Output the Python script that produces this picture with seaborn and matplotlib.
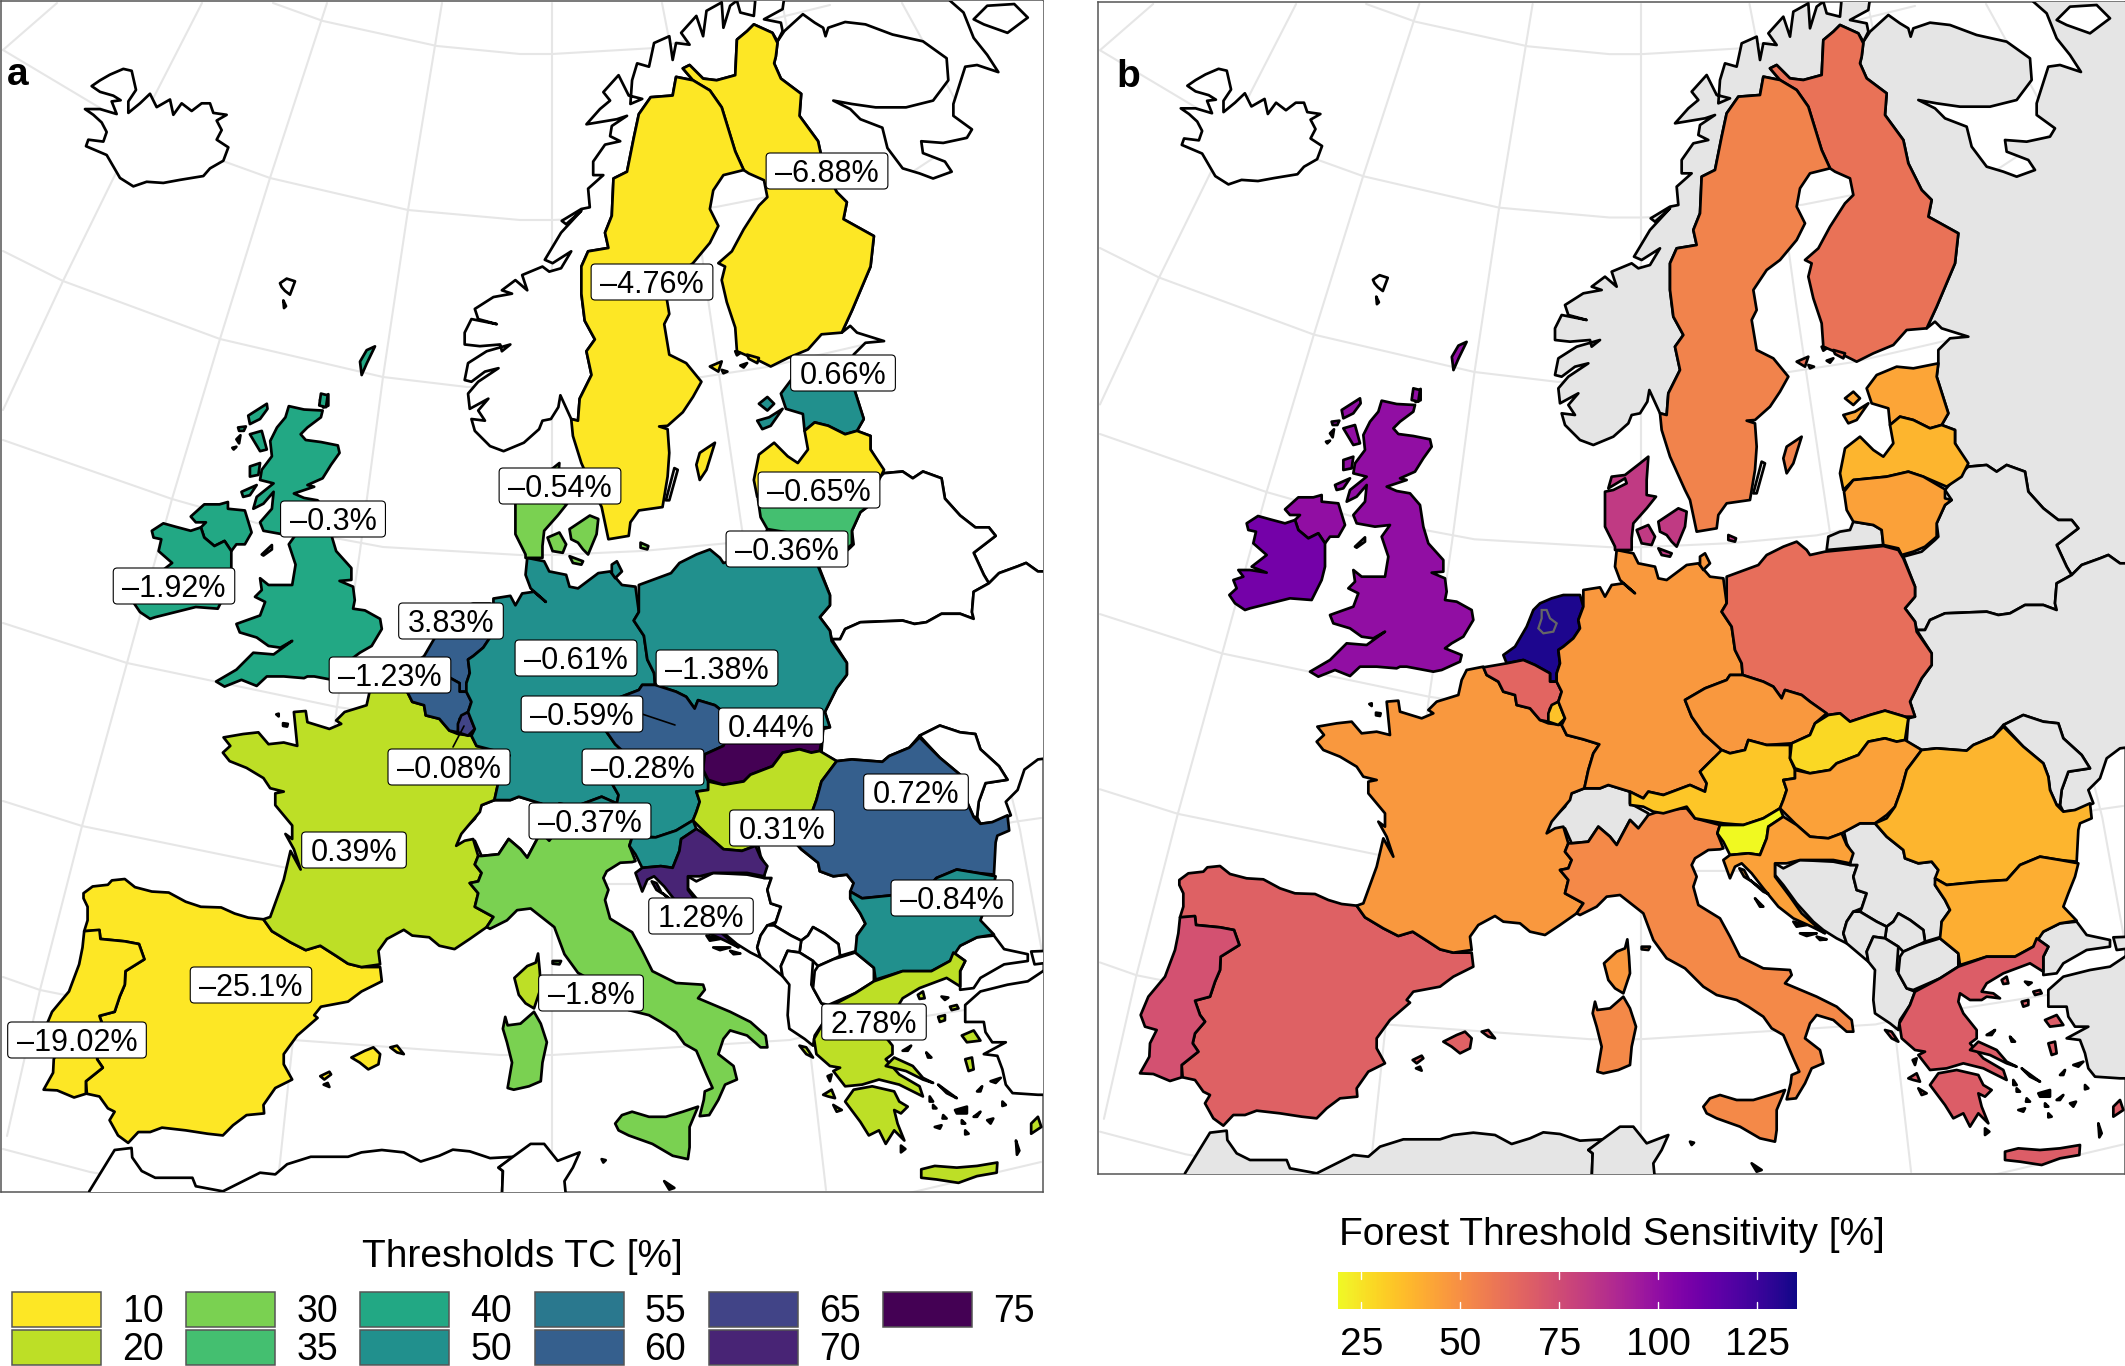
import numpy as np
import matplotlib
matplotlib.use('Agg')
import matplotlib.pyplot as plt
from matplotlib.patches import FancyBboxPatch, Rectangle
import seaborn as sns

SHEETS = {'W': (1120, 680), 'U': (1250, 380), 'N': (1560, 0), 'C': (1620, 430), 'S': (1620, 730)}

SPAIN = [(178,600),(205,580),(250,575),(262,562),(300,558),(330,582),(380,595),(430,598),(480,625),(525,640),(585,642),(625,660),(665,672),(710,677),(735,712),(790,745),(835,768),(878,755),(925,785),(960,808),(1000,818),(1055,818),(1060,860),(1000,890),(960,920),(880,935),(860,960),(870,968),(810,1020),(770,1075),(770,1105),(795,1150),(745,1175),(710,1225),(712,1250),(660,1255),(620,1285),(590,1315),(545,1310),(480,1300),(410,1292),(375,1305),(340,1305),(310,1337),(280,1315),(255,1270),(270,1245),(250,1235),(225,1200),(188,1192),(185,1155),(235,1115),(218,1090),(225,1060),(255,1025),(240,1005),(225,962),(270,950),(285,905),(300,870),(302,830),(358,795),(342,750),(300,742),(228,735),(225,710),(180,712),(190,680),(190,640),(178,615)]
PORTUGAL = [(180,712),(225,708),(228,735),(300,742),(342,750),(358,795),(302,830),(300,870),(285,905),(270,950),(225,962),(240,1005),(255,1025),(225,1060),(218,1090),(235,1115),(185,1155),(185,1192),(150,1203),(100,1182),(60,1180),(88,1130),(90,1090),(110,1050),(75,1040),(62,1005),(85,950),(135,890),(165,810),(175,760)]
FRANCE = [(1040,-30),(1090,-40),(1100,-15),(1135,5),(1150,35),(1185,45),(1190,75),(1230,85),(1260,120),(1285,130),(1325,135),(1340,165),(1390,178),(1438,193),(1420,220),(1405,270),(1393,325),(1355,340),(1350,360),(1320,395),(1295,425),(1280,460),(1305,445),(1330,440),(1345,490),(1335,515),(1355,540),(1345,565),(1320,570),(1345,600),(1335,640),(1390,670),(1370,700),(1320,735),(1275,765),(1230,755),(1200,730),(1150,725),(1125,708),(1075,735),(1050,770),(1055,810),(1000,818),(960,808),(925,785),(878,755),(835,768),(790,745),(735,712),(710,677),(730,670),(770,560),(790,475),(820,530),(800,470),(775,425),(795,440),(795,400),(745,340),(745,305),(770,300),(730,290),(710,260),(660,230),(610,210),(590,185),(612,165),(592,140),(650,130),(695,125),(725,160),(770,155),(810,165),(800,65),(835,62),(840,95),(905,115),(940,100),(925,90),(950,65),(1015,45),(1025,0)]
CORSICA = [(1522,778),(1527,830),(1530,880),(1510,940),(1485,925),(1465,900),(1452,850),(1490,815),(1515,805)]
SARDINIA = [(1425,965),(1432,990),(1470,985),(1510,950),(1530,985),(1548,1040),(1535,1100),(1530,1155),(1495,1170),(1450,1180),(1432,1175),(1445,1100),(1430,1040),(1418,1000)]
MALLORCA = [(970,1085),(1010,1065),(1035,1055),(1055,1075),(1050,1105),(1020,1120),(995,1100)]
MENORCA = [(1085,1055),(1105,1050),(1125,1075),(1105,1070)]
IBIZA = [(878,1140),(905,1127),(910,1135),(890,1150)]
FORMENTERA = [(888,1165),(900,1160),(905,1172)]
CHANNEL_ISLES = [[(748,72),(755,70),(755,78)], [(768,98),(782,100),(780,108),(768,106)]]
AFRICA = [(195,1500),(195,1480),(270,1358),(320,1352),(322,1380),(350,1420),(390,1440),(440,1440),(500,1440),(510,1465),(590,1480),(640,1455),(700,1425),(745,1430),(780,1400),(850,1378),(960,1378),(1000,1365),(1060,1358),(1125,1365),(1175,1392),(1230,1375),(1270,1357),(1320,1362),(1380,1382),(1450,1378),(1405,1410),(1418,1420),(1415,1500)]
TUNISIA = [(1415,1500),(1418,1420),(1405,1410),(1445,1380),(1500,1340),(1540,1340),(1580,1390),(1645,1365),(1625,1410),(1600,1450),(1605,1500)]

BRITAIN = [(395,62),(440,72),(495,75),(490,95),(450,125),(430,145),(445,162),(490,168),(540,178),(545,200),(520,235),(495,275),(450,295),(470,300),(410,320),(440,333),(480,340),(510,375),(520,440),(535,490),(580,540),(580,575),(545,578),(585,595),(590,635),(585,660),(620,665),(665,690),(670,720),(640,770),(605,790),(585,805),(635,825),(630,845),(575,870),(550,875),(470,860),(450,860),(440,865),(380,860),(330,860),(300,888),(255,870),(205,890),(180,875),(240,840),(290,790),(350,795),(405,755),(370,775),(335,770),(300,745),(250,730),(240,705),(310,680),(325,640),(295,625),(315,605),(310,570),(335,590),(405,590),(415,530),(395,470),(420,435),(375,440),(320,430),(310,405),(345,365),(350,315),(320,350),(290,365),(300,330),(350,290),(310,280),(315,250),(345,210),(340,165),(360,125),(385,95)]
HEBRIDES = [[(275,90),(330,55),(332,70),(310,100),(280,115)], [(280,145),(315,135),(330,190),(310,195)], [(280,240),(310,230),(305,265),(280,270)], [(255,315),(300,295),(280,325),(260,330)], [(245,125),(268,122),(262,135),(248,135)], [(240,160),(252,148),(248,172)], [(228,185),(240,182),(232,190)], [(490,25),(510,30),(505,65),(485,60)]]
IRELAND = [(24,408),(60,418),(105,430),(135,420),(145,450),(175,475),(205,460),(225,490),(225,560),(215,600),(185,660),(120,655),(60,670),(0,685),(-15,690),(-45,670),(-62,645),(-40,625),(-50,600),(-20,590),(-35,570),(0,570),(50,578),(5,560),(50,525),(10,490),(18,455),(-5,450),(-10,430)]
N_IRELAND = [(105,388),(145,352),(190,352),(215,345),(215,365),(265,370),(285,435),(265,470),(240,470),(225,490),(205,460),(175,475),(145,450),(135,420),(150,405),(120,405)]
MAN = [(315,500),(345,472),(345,485),(320,503)]
NETHERLANDS = [(905,655),(940,645),(990,645),(1000,680),(985,720),(990,745),(970,775),(940,800),(925,810),(930,850),(920,880),(920,905),(900,905),(900,880),(855,855),(820,840),(770,850),(760,825),(795,800),(830,740),(850,690),(870,670)]
IJSSELMEER = [(875,690),(890,690),(900,715),(920,730),(910,755),(880,760),(865,745),(875,715)]
BELGIUM = [(700,862),(770,850),(820,840),(855,855),(900,880),(900,905),(920,905),(935,935),(925,965),(900,985),(895,1025),(870,1020),(840,985),(800,975),(795,945),(760,935),(745,905),(710,885)]
LUXEMBOURG = [(905,975),(925,965),(945,1015),(925,1035),(895,1025),(895,1000)]
GERMANY = [(1100,510),(1150,520),(1165,550),(1215,560),(1225,595),(1250,600),(1310,555),(1345,550),(1380,590),(1420,595),(1430,670),(1415,695),(1445,740),(1455,810),(1475,850),(1478,885),(1440,885),(1430,900),(1365,925),(1305,960),(1325,1010),(1360,1060),(1410,1105),(1420,1120),(1390,1135),(1350,1175),(1370,1210),(1365,1235),(1320,1215),(1240,1245),(1195,1235),(1180,1255),(1140,1235),(1075,1215),(1050,1225),(1003,1225),(1015,1170),(1030,1120),(1048,1093),(1000,1078),(950,1065),(935,1035),(945,1015),(925,965),(935,935),(920,905),(920,880),(930,850),(925,810),(940,800),(970,775),(990,745),(985,720),(1000,680),(1000,630),(1050,622),(1065,650),(1085,615),(1120,610),(1155,640),(1110,600),(1095,560)]
RUGEN = [(1350,530),(1365,520),(1380,550),(1360,570),(1350,555)]
SWITZERLAND = [(1003,1225),(1050,1225),(1075,1215),(1140,1235),(1140,1270),(1195,1300),(1190,1330),(1165,1345),(1140,1320),(1100,1395),(1080,1370),(1045,1340),(1015,1385),(965,1390),(945,1345),(890,1360),(900,1325),(945,1280),(965,1240)]
JUTLAND = [(1195,230),(1190,300),(1190,345),(1218,350),(1190,385),(1150,430),(1145,475),(1145,510),(1095,510),(1095,500),(1065,440),(1065,335),(1090,330),(1130,310),(1125,295),(1075,325),(1085,290),(1125,285),(1170,250)]
FUNEN = [(1160,450),(1195,435),(1215,470),(1205,495),(1175,490)]
ZEALAND = [(1225,425),(1255,405),(1285,385),(1310,395),(1305,440),(1280,500),(1265,485),(1250,465),(1230,455)]
LOLLAND = [(1225,505),(1265,520),(1260,530),(1235,525)]
BORNHOLM = [(1435,465),(1458,475),(1455,485),(1435,480)]

FINLAND = [(840,75),(895,100),(910,130),(905,170),(900,190),(920,235),(980,280),(975,345),(1030,420),(1045,490),(1085,570),(1115,600),(1105,650),(1195,700),(1185,790),(1130,920),(1100,985),(1040,990),(1000,1035),(940,1060),(890,1085),(860,1070),(790,1040),(785,970),(760,895),(745,830),(755,790),(735,780),(775,745),(810,680),(855,610),(880,585),(870,535),(825,515),(810,505),(785,450),(765,385),(745,320),(710,270),(660,240),(630,205),(650,195),(690,235),(730,240),(785,225),(790,120),(820,95)]
SWEDEN = [(610,230),(660,240),(710,270),(745,320),(765,385),(785,450),(810,505),(750,520),(720,565),(710,620),(735,670),(710,720),(660,780),(620,810),(580,870),(590,930),(575,960),(590,1050),(640,1075),(685,1130),(660,1175),(630,1220),(585,1260),(560,1262),(585,1270),(590,1340),(585,1410),(570,1500),(500,1510),(475,1545),(470,1585),(410,1595),(390,1500),(375,1470),(330,1370),(305,1290),(300,1240),(320,1245),(325,1180),(360,1110),(345,1040),(370,1005),(340,950),(330,870),(330,790),(350,745),(410,735),(400,690),(420,640),(425,530),(465,510),(485,410),(500,340),(535,290),(600,285)]
GOTLAND = [(680,1340),(725,1310),(700,1390),(680,1420),(670,1375)]
OLAND = [(605,1385),(615,1390),(590,1480),(580,1480)]
ALAND = [[(710,1085),(745,1070),(735,1100)], [(745,1095),(762,1100),(750,1105)], [(800,1082),(820,1075),(810,1088)], [(785,1040),(800,1045),(790,1052)], [(820,1050),(855,1060),(850,1075),(825,1062)]]
NORWAY = [(300,1240),(268,1170),(262,1205),(240,1240),(215,1245),(205,1270),(160,1310),(100,1335),(60,1320),(15,1275),(5,1240),(45,1245),(25,1215),(55,1180),(0,1210),(-5,1165),(25,1130),(85,1090),(45,1100),(5,1130),(-15,1125),(-5,1075),(50,1040),(120,1020),(95,1040),(90,1020),(30,1025),(-15,1020),(-15,985),(5,945),(80,960),(25,945),(15,915),(70,880),(125,870),(95,860),(135,830),(170,860),(155,815),(215,790),(235,805),(270,795),(300,745),(245,780),(222,770),(270,690),(330,625),(285,665),(272,655),(330,620),(355,615),(350,560),(395,520),(365,520),(365,480),(400,430),(445,420),(415,405),(420,375),(465,345),(435,355),(345,370),(385,325),(415,300),(395,275),(440,225),(470,285),(510,295),(475,310),(480,240),(495,190),(530,200),(545,130),(590,110),(600,180),(610,130),(650,135),(625,100),(670,50),(690,110),(700,35),(745,10),(750,85),(770,20),(790,5),(800,40),(840,50),(845,-5),(930,-5),(925,30),(870,60),(920,70),(925,95),(910,125),(895,100),(840,75),(820,95),(790,120),(785,225),(730,240),(690,235),(650,195),(630,205),(660,240),(610,230),(600,285),(535,290),(500,340),(485,410),(465,510),(425,530),(420,640),(400,690),(410,735),(350,745),(330,790),(330,870),(340,950),(370,1005),(345,1040),(360,1110),(325,1180),(320,1245)]
RUSSIA = [(910,125),(930,95),(985,45),(1020,70),(1045,85),(1052,110),(1060,85),(1110,68),(1170,75),(1250,105),(1340,125),(1410,175),(1415,240),(1370,300),(1290,320),(1200,320),(1130,310),(1075,300),(1125,325),(1155,355),(1220,380),(1235,440),(1280,500),(1330,515),(1370,530),(1425,510),(1405,480),(1340,455),(1335,420),(1400,425),(1470,410),(1485,385),(1430,345),(1430,310),(1465,200),(1500,195),(1563,216),(1530,165),(1490,115),(1460,40),(1420,5),(1420,-20),(1720,-20),(1720,1690),(1680,1690),(1645,1665),(1620,1675),(1565,1695),(1535,1725),(1520,1700),(1490,1635),(1555,1585),(1535,1560),(1495,1560),(1450,1525),(1405,1475),(1395,1415),(1340,1395),(1310,1415),(1280,1395),(1225,1400),(1185,1330),(1185,1290),(1145,1275),(1165,1240),(1130,1130),(1135,1090),(1135,1050),(1170,1015),(1225,1010),(1145,985),(1125,965),(1100,985),(1130,920),(1185,790),(1195,700),(1105,650),(1115,600),(1085,570),(1045,490),(1030,420),(975,345),(980,280),(920,235),(900,190),(905,170)]
KOLA_LAKE = [(1490,60),(1530,20),(1610,15),(1650,55),(1590,100),(1520,75)]
ESTONIA = [(920,1165),(950,1125),(1010,1100),(1060,1105),(1135,1090),(1130,1130),(1165,1240),(1145,1275),(1110,1285),(1060,1260),(1020,1250),(990,1275),(985,1225),(935,1210)]
SAAREMAA = [(850,1245),(885,1235),(925,1210),(890,1260),(865,1270)]
HIIUMAA = [(855,1195),(880,1175),(900,1195),(880,1215)]

LATVIA = [(660,130),(675,55),(720,20),(760,60),(790,80),(820,40),(810,-15),(840,-40),(880,-30),(930,-5),(965,-15),(1005,0),(1005,40),(1045,100),(1025,140),(980,170),(910,140),(865,125),(800,140),(700,150),(670,180)]
LITHUANIA = [(672,185),(700,150),(800,140),(865,125),(910,140),(975,178),(975,205),(995,210),(975,225),(950,280),(950,320),(915,350),(880,365),(845,375),(835,355),(790,345),(785,300),(760,285),(700,275),(680,240)]
KALININGRAD = [(620,360),(625,320),(660,305),(690,300),(700,275),(760,285),(785,300),(790,345)]
BELARUS = [(850,380),(905,365),(945,330),(955,320),(950,280),(975,225),(995,210),(975,180),(1000,150),(1045,110),(1100,105),(1130,125),(1160,105),(1215,125),(1225,185),(1270,235),(1315,270),(1355,270),(1375,295),(1310,345),(1340,410),(1355,435),(1310,460),(1305,520),(1310,540),(1270,525),(1215,525),(1170,550),(1135,555),(1100,545),(975,550),(930,570),(915,600),(890,600),(885,575),(855,535),(885,500),(885,470)]
UKRAINE = [(890,600),(915,600),(930,570),(975,550),(1100,545),(1135,555),(1170,550),(1215,525),(1270,525),(1310,540),(1305,520),(1310,460),(1355,435),(1385,405),(1440,385),(1465,375),(1500,400),(1540,400),(1540,950),(1500,955),(1460,985),(1440,1045),(1405,1080),(1420,1120),(1370,1140),(1330,1145),(1320,1125),(1325,1080),(1345,1025),(1410,1015),(1385,975),(1330,925),(1315,880),(1270,875),(1210,855),(1150,885),(1120,920),(1060,945),(1040,962),(950,955),(905,960),(860,935),(865,865),(885,860),(870,815),(905,745),(935,705),(935,670)]
MOLDOVA = [(1150,885),(1210,855),(1270,875),(1315,880),(1330,925),(1385,975),(1410,1015),(1345,1025),(1325,1080),(1320,1125),(1310,1125),(1290,1080),(1285,1040),(1270,1000),(1210,950)]
POLAND = [(320,440),(415,405),(440,375),(490,350),(530,335),(560,360),(570,375),(615,365),(790,348),(835,360),(850,385),(885,470),(885,500),(855,535),(885,575),(890,605),(935,670),(935,705),(905,745),(870,815),(885,860),(855,860),(795,842),(750,855),(690,875),(660,850),(625,855),(570,815),(545,795),(495,780),(485,805),(460,770),(430,755),(368,735),(365,700),(345,660),(335,590),(305,545),(320,520)]
CZECHIA = [(195,810),(255,775),(320,750),(330,735),(368,735),(430,755),(460,770),(485,805),(495,780),(545,795),(570,815),(620,850),(585,880),(570,915),(515,940),(440,945),(385,930),(375,960),(330,970),(305,960),(250,910),(215,860)]
AUSTRIA = [(30,1085),(70,1105),(85,1085),(130,1095),(210,1065),(255,1085),(260,1060),(240,1025),(280,985),(305,960),(330,970),(375,960),(385,930),(440,945),(510,945),(510,985),(525,1020),(525,1045),(490,1050),(500,1080),(490,1110),(480,1135),(430,1165),(370,1185),(310,1180),(225,1165),(200,1130),(130,1150),(100,1145),(70,1130),(30,1125)]
SLOVAKIA = [(625,855),(660,850),(690,875),(750,855),(795,842),(855,860),(865,865),(855,930),(830,935),(795,925),(745,935),(715,975),(650,1000),(630,1020),(570,1030),(525,1015),(510,985),(515,940),(570,915),(585,880)]
HUNGARY = [(525,1020),(570,1030),(630,1020),(650,1000),(715,975),(745,935),(795,925),(830,935),(855,930),(905,960),(860,1020),(845,1075),(825,1130),(800,1155),(765,1180),(720,1180),(665,1210),(625,1225),(570,1220),(530,1185),(490,1145),(480,1135),(490,1110),(500,1080),(490,1050),(525,1045)]
SLOVENIA = [(300,1185),(370,1185),(430,1165),(480,1135),(490,1160),(445,1190),(440,1225),(420,1275),(385,1270),(330,1275),(310,1235),(292,1210)]
CROATIA = [(490,1160),(530,1185),(570,1220),(625,1225),(665,1210),(680,1245),(700,1270),(690,1300),(640,1290),(540,1290),(500,1300),(465,1300),(465,1340),(510,1400),(545,1450),(590,1490),(615,1510),(575,1490),(520,1465),(475,1430),(430,1375),(395,1330),(365,1300),(345,1310),(330,1345),(310,1290),(330,1275),(385,1270),(420,1275),(440,1225),(445,1190)]
CROATIA_ISLES = [[(358,1315),(372,1320),(388,1350),(372,1340)], [(390,1350),(445,1392),(430,1385)], [(405,1405),(430,1430),(420,1430)]]

BOSNIA = [(465,400),(490,415),(540,390),(640,395),(690,405),(712,405),(700,440),(710,480),(740,490),(725,535),(700,545),(680,575),(670,610),(680,640),(650,625),(610,600),(580,575),(530,520),(490,465),(465,435)]
SERBIA = [(672,305),(720,280),(765,280),(800,320),(850,360),(855,385),(895,400),(935,395),(955,420),(945,465),(975,510),(990,540),(965,575),(965,620),(915,635),(910,600),(870,570),(835,550),(820,575),(800,590),(770,575),(720,545),(725,535),(740,490),(710,480),(700,440),(712,405),(690,405),(695,370),(680,340)]
KOSOVO = [(800,590),(820,575),(835,550),(870,570),(910,600),(915,635),(895,645),(850,665),(835,650),(795,625)]
MONTENEGRO = [(680,640),(670,610),(680,575),(700,545),(720,545),(770,575),(800,590),(795,625),(760,620),(740,665),(745,695)]
ALBANIA = [(745,695),(740,665),(760,620),(795,625),(835,650),(830,720),(860,775),(885,785),(870,825),(840,870),(835,900),(810,880),(765,850),(760,810),(765,720)]
MACEDONIA = [(850,665),(895,645),(960,625),(1015,670),(1015,710),(960,745),(880,780),(860,775),(835,730),(840,680)]
BULGARIA = [(945,445),(980,465),(1080,455),(1160,450),(1200,405),(1260,380),(1320,390),(1375,400),(1365,440),(1345,490),(1330,530),(1370,572),(1320,580),(1270,605),(1240,650),(1185,680),(1100,680),(1020,705),(1015,670),(960,625),(965,575),(990,540),(975,510),(945,465)]
ROMANIA = [(905,60),(950,55),(1040,62),(1060,45),(1120,20),(1150,-10),(1210,50),(1270,100),(1285,140),(1290,180),(1310,225),(1330,245),(1365,240),(1410,220),(1415,265),(1380,280),(1375,300),(1370,395),(1320,390),(1260,380),(1200,405),(1160,450),(1080,455),(980,465),(945,445),(955,420),(935,395),(895,400),(855,385),(850,360),(800,320),(765,280),(800,265),(825,230),(845,175),(860,120)]
ITALY = [(-155,340),(-145,340),(-95,335),(-65,290),(-30,320),(-10,345),(30,270),(55,295),(85,255),(130,240),(200,235),(225,265),(300,285),(292,310),(310,355),(300,358),(265,360),(225,385),(215,405),(230,440),(220,470),(235,525),(300,565),(330,620),(360,680),(430,715),(510,720),(515,735),(495,760),(590,800),(650,830),(695,870),(700,905),(680,905),(640,870),(590,855),(570,880),(555,925),(600,960),(610,1000),(575,1015),(555,1060),(528,1105),(500,1108),(512,1060),(515,1035),(538,1025),(520,985),(490,915),(455,895),(430,860),(385,830),(350,810),(290,795),(250,770),(195,715),(140,685),(100,630),(70,550),(0,495),(-40,500),(-70,530),(-120,555),(-130,550),(-110,520),(-165,490),(-155,450),(-180,420),(-155,415),(-145,390),(-165,365)]
SICILY = [(250,1130),(270,1105),(300,1095),(350,1110),(400,1110),(450,1095),(495,1080),(470,1140),(470,1200),(465,1235),(420,1225),(360,1190),(290,1165),(260,1150)]
ELBA = [(65,650),(90,650),(85,660),(65,658)]
GREECE = [(885,785),(960,745),(1015,710),(1100,680),(1185,680),(1240,650),(1250,625),(1285,650),(1270,680),(1270,725),(1230,700),(1150,730),(1100,760),(1085,785),(1120,790),(1140,805),(1100,800),(1085,810),(1050,810),(1020,790),(1015,815),(1030,850),(1070,900),(1070,925),(1050,940),(1090,985),(1150,1020),(1160,1050),(1090,1015),(1030,1000),(980,1015),(930,1020),(895,975),(915,965),(885,960),(845,925),(838,880),(870,825)]
EVIA = [(1050,960),(1075,935),(1130,960),(1160,995),(1190,1010),(1160,1000),(1110,975)]
PELOPONNESE = [(930,1065),(955,1030),(1010,1020),(1075,1035),(1090,1065),(1115,1080),(1095,1100),(1075,1090),(1085,1130),(1105,1180),(1075,1150),(1050,1190),(1030,1150),(1000,1165),(975,1125)]
CRETE = [(1155,1265),(1195,1255),(1260,1260),(1320,1255),(1380,1245),(1378,1275),(1320,1285),(1265,1305),(1200,1295),(1155,1290)]
GREEK_ISLES = [[(795,900),(815,905),(835,935),(815,925)], [(865,1045),(890,1030),(900,1055),(880,1050)], [(895,1075),(920,1090),(905,1095)], [(878,990),(890,985),(885,1005)], [(1275,870),(1310,855),(1330,885),(1290,890)], [(1285,940),(1305,935),(1310,970),(1295,975)], [(1360,1005),(1390,995),(1375,1010)], [(1205,815),(1225,810),(1225,825),(1210,830)], [(1145,750),(1160,740),(1165,760),(1150,762)], [(1240,785),(1260,780),(1265,790),(1245,795)]]
AEGEAN_SPECKS = [[(1215,755),(1235,758),(1225,765)], [(1100,915),(1125,900),(1115,915)], [(1170,920),(1185,935),(1175,935)], [(1320,1035),(1335,1020),(1330,1035)], [(1180,1050),(1190,1065),(1180,1065)], [(1190,1075),(1200,1085),(1190,1085)], [(1205,1015),(1260,1055),(1230,1040)], [(1220,1105),(1230,1115),(1218,1115)], [(1255,1090),(1290,1080),(1290,1100),(1260,1100)], [(1195,1140),(1215,1135),(1210,1145)], [(1275,1120),(1285,1130),(1275,1130)], [(1285,1150),(1295,1160),(1285,1162)], [(1310,1110),(1330,1095),(1320,1110)], [(1350,1120),(1368,1115),(1360,1130)], [(1435,1180),(1445,1210),(1438,1222)], [(1395,1065),(1405,1075),(1395,1078)], [(1095,1195),(1108,1205),(1095,1215)], [(210,1235),(222,1238),(215,1245)], [(395,1300),(425,1320),(410,1325)], [(520,575),(560,585),(530,590)], [(540,610),(590,610),(560,618)], [(590,620),(620,628),(600,630)]]
TURKEY_THRACE = [(1270,605),(1320,580),(1370,575),(1400,615),(1470,630),(1470,650),(1400,660),(1330,700),(1310,730),(1270,735),(1270,680),(1285,650),(1250,625)]
TURKEY_EAST = [(1480,622),(1530,620),(1530,655),(1490,660)]
ANATOLIA = [(1530,670),(1470,710),(1410,720),(1330,740),(1285,780),(1285,830),(1340,830),(1345,860),(1365,890),(1405,890),(1340,925),(1380,930),(1395,970),(1405,1015),(1425,1040),(1500,1045),(1530,1045)]
RHODES = [(1480,1130),(1500,1110),(1510,1140),(1480,1160)]

# panel a pixel coordinates (Iceland, Faroe, Orkney crop: 3 units per px in x, 2.613 in y)
ICELAND = [(255,285),(300,285),(350,298),(335,265),(362,262),(340,250),(300,240),(275,225),(300,210),(330,195),(370,180),(395,185),(408,235),(385,265),(385,295),(420,270),(450,245),(470,280),(510,260),(520,300),(545,270),(575,290),(605,270),(630,270),(640,295),(680,300),(650,315),(665,340),(650,365),(685,385),(670,420),(630,440),(610,460),(540,470),(490,478),(440,475),(400,487),(360,465),(320,405),(258,382),(265,365),(310,370),(320,345),(305,320),(280,300)]
FAROE = [[(840,740),(860,728),(885,735),(870,770),(855,760),(845,750)], [(850,785),(858,800),(852,805)]]
SHETLAND = [(1080,945),(1100,915),(1125,905),(1100,950),(1085,980)]
ORKNEY = [(960,1045),(985,1030),(985,1060),(970,1065)]

# graticule, panel a pixels
PARALLELS = [
    [(273,3),(323,21),(437,46),(520,54),(552,54),(655,48),(830,5)],
    [(3,50),(137,130),(270,178),(408,210),(520,220),(552,220),(605,218),(716,207),(767,197),(900,180),(973,132),(1041,90)],
    [(3,251),(63,281),(220,339),(383,377),(467,387),(520,386),(552,386),(702,377),(767,367),(888,339),(1041,281)],
    [(3,440),(172,499),(260,524),(383,547),(520,555),(552,555),(642,551),(730,543),(858,517),(1041,465)],
    [(3,623),(127,663),(337,707),(470,726),(600,730),(700,722),(838,696),(1041,644)],
    [(3,801),(82,826),(287,868),(400,880),(520,884),(650,884),(763,875),(817,868),(1013,822),(1041,818)],
    [(3,977),(40,990),(60,994),(293,1040),(500,1055),(552,1055),(790,1040),(824,1032),(1041,998)],
    [(3,1149),(90,1172),(200,1191)],
    [(892,1197),(1041,1162)],
]
MERIDIANS = [
    [(57,3),(3,50)],
    [(202,3),(137,130),(63,281),(3,410)],
    [(327,3),(270,178),(220,339),(172,499),(127,663),(82,826),(40,990),(7,1136)],
    [(442,3),(408,210),(383,377),(360,551),(337,707),(293,1040),(277,1190)],
    [(552,3),(552,1190)],
    [(662,3),(680,96),(709,306),(743,536),(787,849),(826,1190)],
    [(782,3),(790,42),(824,153),(868,295),(895,383),(926,467),(956,597),(980,669),(1020,830),(1042,952)],
    [(902,3),(973,132),(1041,281)],
]

# countries: (sheet, outline) parts
COUNTRY_PARTS = {
    'Russia': [('N', RUSSIA)],
    'Norway': [('N', NORWAY)],
    'Belarus': [('C', BELARUS)],
    'Ukraine': [('C', UKRAINE)],
    'Moldova': [('C', MOLDOVA)],
    'Kaliningrad': [('C', KALININGRAD)],
    'Switzerland': [('U', SWITZERLAND)],
    'Bosnia': [('S', BOSNIA)],
    'Serbia': [('S', SERBIA)],
    'Kosovo': [('S', KOSOVO)],
    'Montenegro': [('S', MONTENEGRO)],
    'Albania': [('S', ALBANIA)],
    'Macedonia': [('S', MACEDONIA)],
    'Turkey': [('S', TURKEY_THRACE), ('S', TURKEY_EAST), ('S', ANATOLIA)],
    'Africa': [('W', AFRICA), ('W', TUNISIA)],
    'Spain': [('W', SPAIN), ('W', MALLORCA), ('W', MENORCA), ('W', IBIZA), ('W', FORMENTERA)],
    'Portugal': [('W', PORTUGAL)],
    'France': [('W', FRANCE), ('W', CORSICA)],
    'Italy': [('S', ITALY), ('S', SICILY), ('S', ELBA), ('W', SARDINIA)],
    'UK': [('U', BRITAIN), ('U', N_IRELAND), ('A', SHETLAND), ('A', ORKNEY)] + [('U', p) for p in HEBRIDES],
    'Ireland': [('U', IRELAND)],
    'Netherlands': [('U', NETHERLANDS)],
    'Belgium': [('U', BELGIUM)],
    'Luxembourg': [('U', LUXEMBOURG)],
    'Germany': [('U', GERMANY), ('U', RUGEN)],
    'Denmark': [('U', JUTLAND), ('U', FUNEN), ('U', ZEALAND), ('U', LOLLAND), ('U', BORNHOLM)],
    'Finland': [('N', FINLAND)] + [('N', p) for p in ALAND],
    'Sweden': [('N', SWEDEN), ('N', GOTLAND)],
    'Estonia': [('N', ESTONIA), ('N', SAAREMAA), ('N', HIIUMAA)],
    'Latvia': [('C', LATVIA)],
    'Lithuania': [('C', LITHUANIA)],
    'Poland': [('C', POLAND)],
    'Czechia': [('C', CZECHIA)],
    'Austria': [('C', AUSTRIA)],
    'Slovakia': [('C', SLOVAKIA)],
    'Hungary': [('C', HUNGARY)],
    'Slovenia': [('C', SLOVENIA)],
    'Croatia': [('C', CROATIA)] + [('C', p) for p in CROATIA_ISLES],
    'Romania': [('S', ROMANIA)],
    'Bulgaria': [('S', BULGARIA)],
    'Greece': [('S', GREECE), ('S', EVIA), ('S', PELOPONNESE), ('S', CRETE), ('S', RHODES)] + [('S', p) for p in GREEK_ISLES],
}
# white in both panels
WHITE_PARTS = [('A', ICELAND), ('U', MAN), ('N', OLAND), ('N', KOLA_LAKE)] + [('A', p) for p in FAROE]
BLACK_SPECKS = [('S', p) for p in AEGEAN_SPECKS] + [('W', p) for p in CHANNEL_ISLES]

# panel a: threshold class per country
TC_LEVELS = [10, 20, 30, 35, 40, 50, 55, 60, 65, 70, 75]
TC_CLASS = {'Spain': 10, 'Portugal': 10, 'France': 20, 'Italy': 30, 'UK': 40, 'Ireland': 40,
            'Netherlands': 60, 'Belgium': 60, 'Luxembourg': 65, 'Germany': 50, 'Denmark': 30,
            'Finland': 10, 'Sweden': 10, 'Estonia': 50, 'Latvia': 10, 'Lithuania': 35,
            'Poland': 50, 'Czechia': 60, 'Austria': 50, 'Slovakia': 75, 'Hungary': 20,
            'Slovenia': 50, 'Croatia': 70, 'Romania': 60, 'Bulgaria': 50, 'Greece': 20}

# panel b: sensitivity per country
SENSITIVITY = {'Spain': 67, 'Portugal': 73, 'France': 47, 'Italy': 52, 'UK': 100, 'Ireland': 109,
               'Netherlands': 132, 'Belgium': 65, 'Luxembourg': 34, 'Germany': 47, 'Denmark': 82,
               'Finland': 60, 'Sweden': 54, 'Estonia': 43, 'Latvia': 38, 'Lithuania': 44,
               'Poland': 62, 'Czechia': 47, 'Austria': 33, 'Slovakia': 28, 'Hungary': 44,
               'Slovenia': 19, 'Croatia': 44, 'Romania': 38, 'Bulgaria': 40, 'Greece': 68}

# change labels on panel a
LABEL_TEXT = ['\u20136.88%', '\u20134.76%', '0.66%', '\u20130.54%', '\u20130.65%', '\u20130.36%', '\u20130.3%', '\u20131.92%',
              '3.83%', '\u20131.23%', '\u20130.08%', '0.39%', '\u201325.1%', '\u201319.02%', '\u20130.61%', '\u20131.38%',
              '\u20130.59%', '0.44%', '\u20130.28%', '0.72%', '\u20130.37%', '0.31%', '1.28%', '\u20130.84%', '\u20131.8%', '2.78%']
LABEL_X = [827, 652, 843, 560, 819, 787, 333, 174, 451, 390, 449, 354, 251, 77, 576, 717, 582, 771, 643, 916, 590, 782, 701, 952, 591, 874]
LABEL_Y = [171, 282, 373, 486, 490, 549, 519, 586, 621, 675, 767, 850, 985, 1040, 658, 668, 714, 726, 767, 792, 821, 828, 916, 898, 993, 1022]

COLORBAR_TICKS = [25, 50, 75, 100, 125]
SENS_MIN, SENS_MAX = 19, 135

W, H = 2125, 1366
FRAME_A = (1, 1043, 1, 1192)
FRAME_B = (1098, 2125, 2, 1174)
BLACK_LW = 1.95
GREY_LAND = '#e5e5e5'

sns.set_theme(style='white')
plt.rcParams['font.family'] = ['Liberation Sans', 'DejaVu Sans']

viridis = sns.color_palette('viridis_r', as_cmap=True)
tc_colors = dict(zip(TC_LEVELS, [viridis(v) for v in np.linspace(0, 1, len(TC_LEVELS))]))
plasma = sns.color_palette('plasma_r', as_cmap=True)


def sens_color(v):
    return plasma((v - SENS_MIN) / (SENS_MAX - SENS_MIN))


def from_panel_a(xa, ya):
    # panel a shows the same map a little larger than panel b
    l, r, t, b = FRAME_A
    lb, rb, tb, bb = FRAME_B
    return lb + (xa - l) * (rb - lb) / (r - l), tb + (ya - t) * (bb - tb) / (b - t)


def to_map(part):
    sheet, pts = part
    pts = np.array(pts, dtype=float)
    if sheet == 'A':
        return from_panel_a(pts[:, 0] / 3, pts[:, 1] / 2.613)
    ox, oy = SHEETS[sheet]
    return ox + pts[:, 0] / 3, oy + pts[:, 1] / 3


def panel_axes(frame):
    l, r, t, b = frame
    return fig.add_axes([l / W, 1 - b / H, (r - l) / W, (b - t) / H])


def fill_part(ax, part, color):
    xs, ys = to_map(part)
    ax.fill(xs, ys, facecolor=color, edgecolor='black', linewidth=BLACK_LW, joinstyle='round', zorder=3)


def draw_map(ax, color_of, other_color):
    for line in PARALLELS + MERIDIANS:
        line = np.array(line, dtype=float)
        gx, gy = from_panel_a(line[:, 0], line[:, 1])
        sns.lineplot(x=gx, y=gy, sort=False, estimator=None, color='#e6e6e6', linewidth=1.5, ax=ax)
    for name, parts in COUNTRY_PARTS.items():
        for part in parts:
            fill_part(ax, part, color_of.get(name, other_color))
    for part in WHITE_PARTS:
        fill_part(ax, part, 'white')
    for part in BLACK_SPECKS:
        fill_part(ax, part, 'black')
    ax.set_xlim(FRAME_B[0], FRAME_B[1])
    ax.set_ylim(FRAME_B[3], FRAME_B[2])
    ax.set_xticks([])
    ax.set_yticks([])
    ax.set_xlabel('')
    ax.set_ylabel('')
    for spine in ax.spines.values():
        spine.set_visible(True)
        spine.set_color('#555555')
        spine.set_linewidth(1.1)


fig = plt.figure(figsize=(W / 100, H / 100), dpi=100)

ax_a = panel_axes(FRAME_A)
draw_map(ax_a, {k: tc_colors[v] for k, v in TC_CLASS.items()}, 'white')

ax_b = panel_axes(FRAME_B)
draw_map(ax_b, {k: sens_color(v) for k, v in SENSITIVITY.items()}, GREY_LAND)
ij_x, ij_y = to_map(('U', IJSSELMEER))
ax_b.fill(ij_x, ij_y, facecolor='none', edgecolor='#666666', linewidth=1.6, zorder=4)

# overlay in figure pixels for the labels and legends
over = fig.add_axes([0, 0, 1, 1], zorder=10)
over.set_xlim(0, W)
over.set_ylim(H, 0)
over.axis('off')
over.patch.set_alpha(0)

over.plot([642, 675], [714, 725], color='black', linewidth=1.2, zorder=1)
over.plot([453, 464], [747, 726], color='black', linewidth=1.2, zorder=1)

renderer = fig.canvas.get_renderer()
for txt, x, y in zip(LABEL_TEXT, LABEL_X, LABEL_Y):
    t = over.text(x, y + 11, txt, fontsize=22, ha='center', va='baseline', color='black', zorder=3)
    w = t.get_window_extent(renderer).width
    over.add_patch(FancyBboxPatch((x - w / 2 - 9, y - 18), w + 18, 36,
                                  boxstyle='round,pad=0,rounding_size=4',
                                  facecolor='white', edgecolor='black', linewidth=0.8, zorder=2))

over.text(18, 75, 'a', fontsize=28, fontweight='bold', ha='center', va='center', color='black')
over.text(1128, 77, 'b', fontsize=28, fontweight='bold', ha='center', va='center', color='black')

# threshold legend
over.text(522, 1257, 'Thresholds TC [%]', fontsize=28, ha='center', va='center', color='black')
for i, level in enumerate(TC_LEVELS):
    col, row = i // 2, i % 2
    x0 = 12 + col * 174.2
    y0 = 1292 + row * 37.5
    over.add_patch(Rectangle((x0, y0), 89, 35, facecolor=tc_colors[level], edgecolor='#555555', linewidth=1.1))
    over.text(x0 + 110, y0 + 30, str(level), fontsize=27, ha='left', va='baseline', color='black')

# sensitivity colour bar
over.text(1339, 1235, 'Forest Threshold Sensitivity [%]', fontsize=28, ha='left', va='center', color='black')
bar_x0, bar_x1, bar_y0, bar_y1 = 1337.5, 1797, 1272, 1309
cax = fig.add_axes([bar_x0 / W, 1 - bar_y1 / H, (bar_x1 - bar_x0) / W, (bar_y1 - bar_y0) / H])
ramp = np.arange(SENS_MIN, SENS_MAX, 0.25).reshape(1, -1)
sns.heatmap(ramp, cmap='plasma_r', vmin=SENS_MIN, vmax=SENS_MAX, cbar=False,
            xticklabels=False, yticklabels=False, ax=cax)
for v in COLORBAR_TICKS:
    tx = (v - SENS_MIN) / 0.25
    cax.plot([tx, tx], [0, 0.2], color='white', linewidth=1, zorder=3)
    cax.plot([tx, tx], [0.8, 1], color='white', linewidth=1, zorder=3)
    over.text(bar_x0 + (v - SENS_MIN) / (SENS_MAX - SENS_MIN) * (bar_x1 - bar_x0), 1355, str(v),
              fontsize=28, ha='center', va='baseline', color='black')

fig.savefig('out.png', dpi=100, facecolor='white')
